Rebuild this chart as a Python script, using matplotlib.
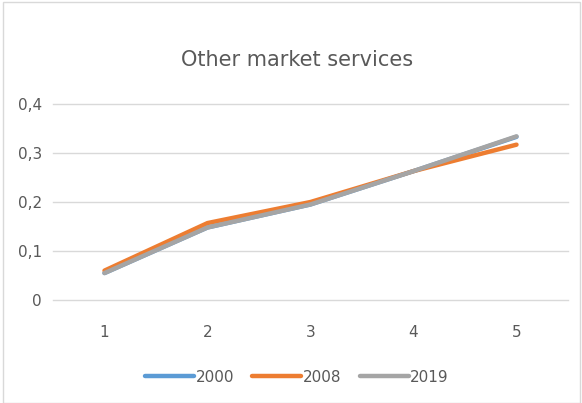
import matplotlib.pyplot as plt
from matplotlib.patches import Rectangle

categories = [1, 2, 3, 4, 5]
serie2000 = [0.055, 0.148, 0.195, 0.263, 0.333]
serie2008 = [0.060, 0.157, 0.200, 0.263, 0.317]
serie2019 = [0.055, 0.148, 0.195, 0.263, 0.334]
yticks = [0, 0.1, 0.2, 0.3, 0.4]
ylabels = ['0', '0,1', '0,2', '0,3', '0,4']

texto = '#595959'

fig = plt.figure(figsize=(5.82, 4.03), dpi=100)
fig.patches.append(Rectangle((0.006, 0.0), 0.99, 0.995, transform=fig.transFigure,
                             fill=False, edgecolor='#D9D9D9', linewidth=1))
ax = fig.add_axes([53/582, 1 - 300/403, 515/582, 196/403])

x = range(len(categories))
ax.plot(x, serie2000, color='#5B9BD5', lw=3.2, solid_capstyle='round', label='2000')
ax.plot(x, serie2008, color='#ED7D31', lw=3.2, solid_capstyle='round', label='2008')
ax.plot(x, serie2019, color='#A5A5A5', lw=3.2, solid_capstyle='round', label='2019')

ax.set_xlim(-0.5, len(categories) - 0.5)
ax.set_ylim(0, 0.4)
ax.set_xticks(list(x))
ax.set_xticklabels([str(c) for c in categories])
ax.set_yticks(yticks)
ax.set_yticklabels(ylabels)
ax.tick_params(length=0, colors=texto, labelsize=11)
ax.tick_params(axis='y', pad=8)
ax.tick_params(axis='x', pad=18)
ax.grid(axis='y', color='#D9D9D9', lw=1)
for g in ax.get_ygridlines():
    g.set_clip_on(False)
ax.set_axisbelow(True)
for s in ax.spines.values():
    s.set_visible(False)

fig.text(297/582, 1 - 60/403, 'Other market services', ha='center', va='center',
         fontsize=15, color=texto)
fig.legend(loc='center', bbox_to_anchor=(297/582, 1 - 377/403), ncol=3, frameon=False,
           fontsize=11, labelcolor=texto, handlelength=3.2, handletextpad=0.1,
           columnspacing=1.2)

fig.savefig('out.png', dpi=100)
